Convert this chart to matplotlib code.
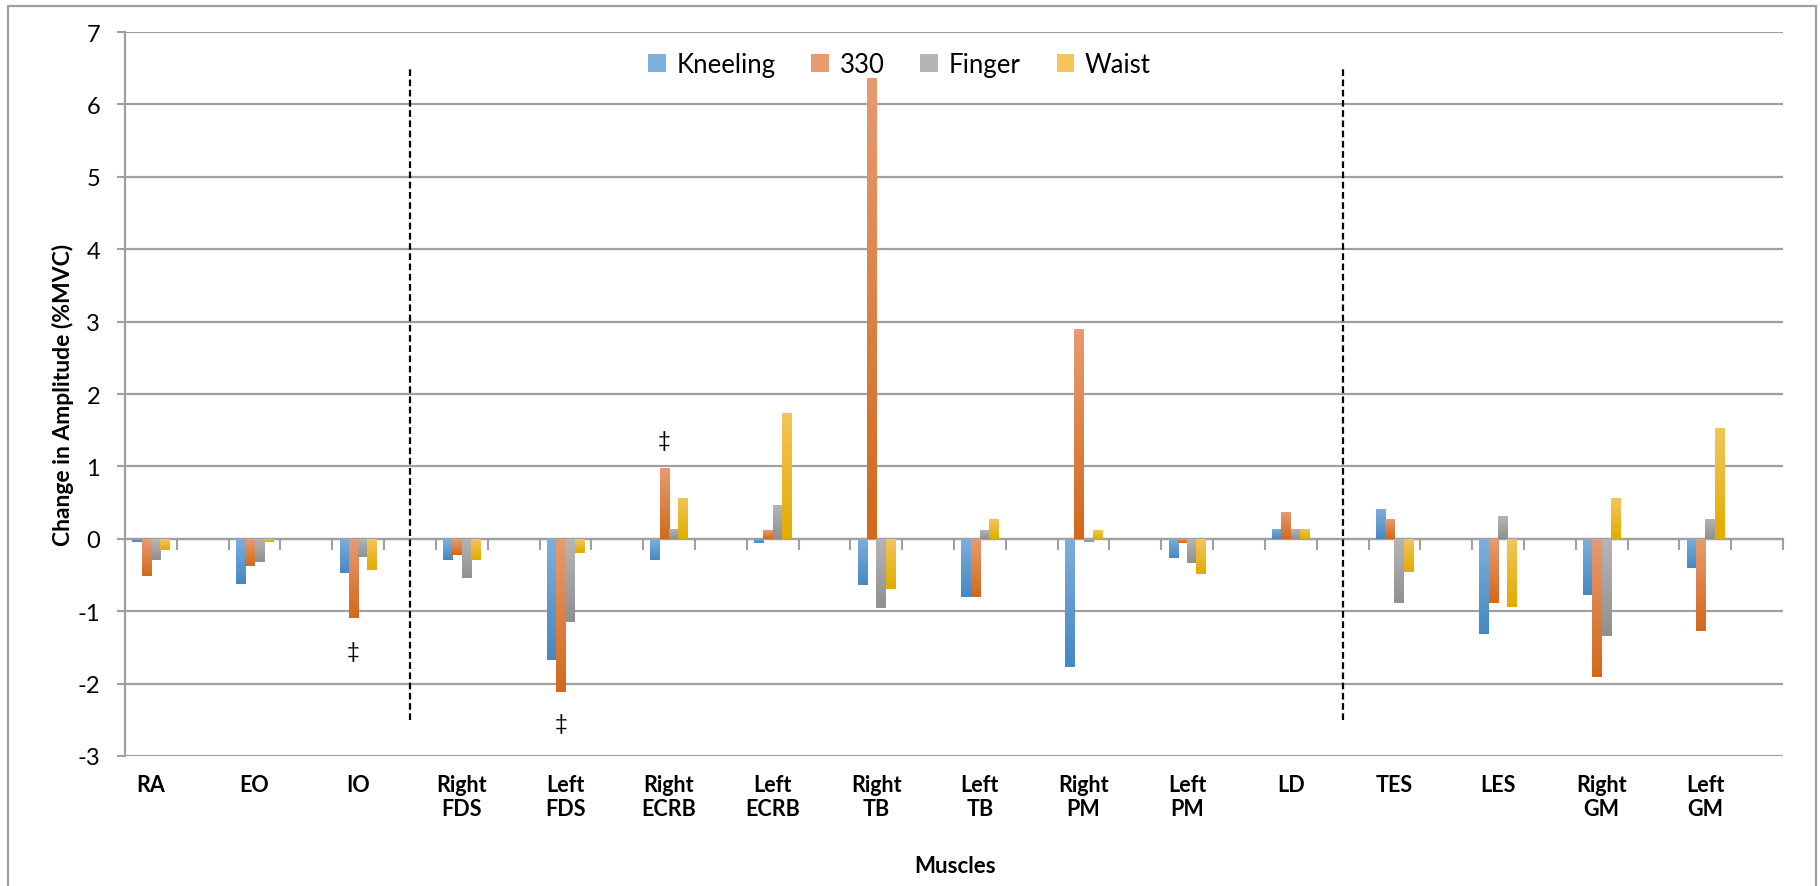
import numpy as np
import matplotlib
matplotlib.use("Agg")
import matplotlib.pyplot as plt
from matplotlib.colors import LinearSegmentedColormap
from matplotlib.patches import Patch, Rectangle

plt.rcParams['font.family'] = ['Lato', 'DejaVu Sans']
plt.rcParams['axes.unicode_minus'] = False

# data
muscles = ['RA', 'EO', 'IO', 'Right\nFDS', 'Left\nFDS', 'Right\nECRB', 'Left\nECRB',
           'Right\nTB', 'Left\nTB', 'Right\nPM', 'Left\nPM', 'LD', 'TES', 'LES',
           'Right\nGM', 'Left\nGM']
kneeling = [-0.05, -0.63, -0.47, -0.29, -1.67, -0.29, -0.06, -0.64,
            -0.80, -1.77, -0.27, 0.14, 0.41, -1.31, -0.78, -0.41]
t330 = [-0.51, -0.37, -1.10, -0.22, -2.12, 0.98, 0.12, 6.37,
        -0.80, 2.90, -0.06, 0.37, 0.27, -0.88, -1.91, -1.27]
finger = [-0.29, -0.32, -0.25, -0.54, -1.15, 0.14, 0.46, -0.96,
          0.12, -0.05, -0.34, 0.13, -0.88, 0.31, -1.34, 0.28]
waist = [-0.15, -0.05, -0.43, -0.29, -0.19, 0.57, 1.74, -0.69,
         0.27, 0.12, -0.48, 0.14, -0.46, -0.94, 0.56, 1.53]
series_names = ['Kneeling', '330', 'Finger', 'Waist']
# significance marks: (muscle index, y value)
dagger_marks = [(2, -1.55), (4, -2.55), (5, 1.37)]
# dashed separators drawn after these muscle groups
divider_after = [2, 11]

# (light top, dark bottom) gradient colours like the Excel fills
grads = [('#7DAFDC', '#4688C2'), ('#E89A70', '#D2691B'),
         ('#B5B5B5', '#909090'), ('#F3C55A', '#E2AC00')]
gray = '#A0A0A0'

fig = plt.figure(figsize=(18.2, 8.87), dpi=100)
ax = fig.add_axes([125 / 1820, 1 - 757 / 887, 1658 / 1820, 724 / 887])

# every muscle gets one slot followed by an empty slot
n = len(muscles)
slot = np.arange(n) * 2 + 0.5
w = 0.18
offsets = (np.arange(4) - 1.5) * w

for vals, off, (ctop, cbot), name in zip([kneeling, t330, finger, waist], offsets, grads, series_names):
    bars = ax.bar(slot + off, vals, width=w, color=ctop, zorder=3, label=name, linewidth=0)
    cmap = LinearSegmentedColormap.from_list(name, [cbot, ctop])
    for p in bars:
        x0, y0 = p.get_xy()
        ylo, yhi = sorted([y0, y0 + p.get_height()])
        im = ax.imshow(np.linspace(0, 1, 64).reshape(-1, 1), cmap=cmap, origin='lower',
                       extent=[x0, x0 + p.get_width(), ylo, yhi], aspect='auto', zorder=3.1)
        im.set_clip_path(p)

for i, y in dagger_marks:
    ax.text(slot[i] + offsets[1], y, '\u2021', ha='center', va='center', fontsize=16, zorder=4)

for i in divider_after:
    ax.vlines(slot[i] + 1.0, -2.5, 6.5, colors='black', linestyles=(0, (3, 1.6)), linewidth=1.6, zorder=4)

ax.set_xlim(0, 2 * n)
ax.set_ylim(-3, 7)
ax.set_yticks(range(-3, 8))
ax.set_xticks(np.arange(0, 2 * n + 1))
ax.tick_params(axis='x', direction='out', length=8, width=1.5, color=gray, labelbottom=False)
ax.tick_params(axis='y', direction='out', length=6, width=1.5, color=gray, labelsize=17, pad=12)
ax.grid(axis='y', color=gray, linewidth=1.6)
ax.set_axisbelow(True)
for s in ['top', 'right']:
    ax.spines[s].set_visible(False)
ax.spines['bottom'].set_position(('data', 0))
ax.spines['bottom'].set_color(gray)
ax.spines['bottom'].set_linewidth(1.6)
ax.spines['left'].set_color(gray)
ax.spines['left'].set_linewidth(1.6)

for x, lab in zip(slot, muscles):
    ax.text(x, -0.025, lab, transform=ax.get_xaxis_transform(), ha='center', va='top',
            fontsize=15.5, fontweight='bold', linespacing=1.2)

handles = [Patch(facecolor=c[0], label=nm) for c, nm in zip(grads, series_names)]
ax.legend(handles=handles, loc='upper center', bbox_to_anchor=(0.467, 1.005), ncol=4,
          frameon=False, fontsize=18.5, handlelength=0.7, handleheight=0.7,
          handletextpad=0.4, columnspacing=1.4)

fig.text(955 / 1820, 1 - 867 / 887, 'Muscles', ha='center', va='center', fontsize=16, fontweight='bold')
fig.text(63 / 1820, 1 - 395 / 887, 'Change in Amplitude (%MVC)', rotation=90, ha='center',
         va='center', fontsize=16.5, fontweight='bold')

fig.patches.append(Rectangle((8 / 1820, -0.05), 1808 / 1820, 1.05 - 7 / 887, transform=fig.transFigure,
                             fill=False, edgecolor=gray, linewidth=1.6))

fig.savefig('out.png', dpi=100)
